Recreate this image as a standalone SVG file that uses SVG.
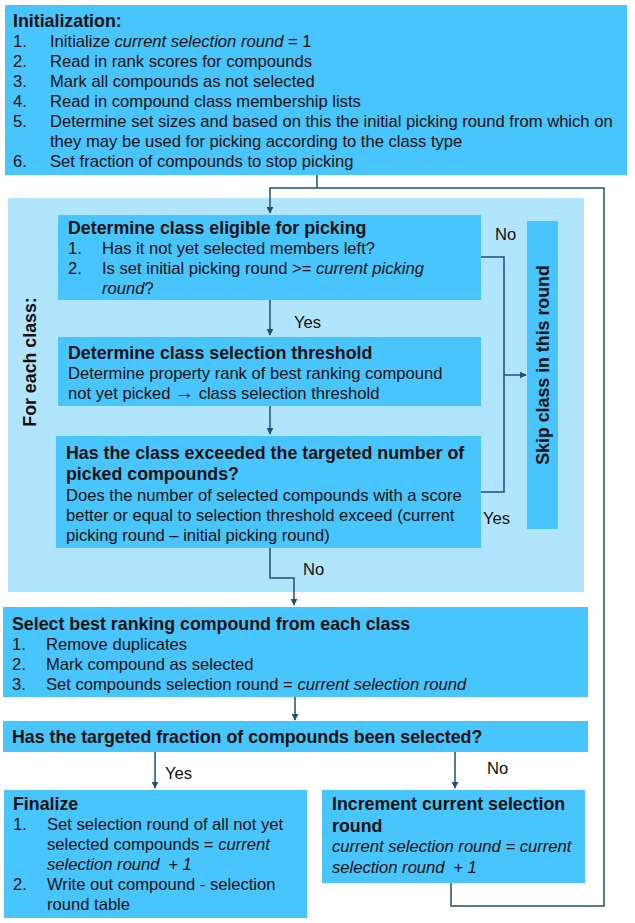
<svg xmlns="http://www.w3.org/2000/svg" width="635" height="923" viewBox="0 0 635 923">
<defs>
<style>
.box{fill:#47C5FC;}
.panel{fill:#B1E5FD;}
text{font-family:"Liberation Sans",Arial,sans-serif;font-size:16.6px;fill:#111;}
.b{font-weight:bold;font-size:17.8px;}
.i{font-style:italic;}
.ln{fill:none;stroke:#1F4E79;stroke-width:1.5;}
</style>
<marker id="ah" viewBox="0 0 10 10" refX="9" refY="5" markerWidth="7" markerHeight="7" orient="auto" markerUnits="userSpaceOnUse">
<path d="M0,0 L10,5 L0,10 z" fill="#1F4E79"/>
</marker>
</defs>
<rect width="635" height="923" fill="#fff"/>

<g id="panel">
<rect class="panel" x="8" y="198" width="576" height="394"/>
<text class="b" transform="translate(36,362) rotate(-90)" text-anchor="middle">For each class:</text>
</g>

<g id="connectors">
<path class="ln" d="M317,175 V188"/>
<path class="ln" d="M451,883 V906 H604 V188 H270 V213" marker-end="url(#ah)"/>
<path class="ln" d="M270,300 V335" marker-end="url(#ah)"/>
<path class="ln" d="M270,406 V434" marker-end="url(#ah)"/>
<path class="ln" d="M481,257 H504 V492 H481"/>
<path class="ln" d="M504,375 H526" marker-end="url(#ah)"/>
<path class="ln" d="M270,548 V578 H294 V605" marker-end="url(#ah)"/>
<path class="ln" d="M295,697 V720" marker-end="url(#ah)"/>
<path class="ln" d="M155,752 V788" marker-end="url(#ah)"/>
<path class="ln" d="M455,750 V788" marker-end="url(#ah)"/>
<text x="495" y="240">No</text>
<text x="294" y="328">Yes</text>
<text x="483" y="524">Yes</text>
<text x="303" y="575">No</text>
<text x="165" y="779">Yes</text>
<text x="487" y="774">No</text>
</g>

<g id="init">
<rect class="box" x="5" y="5" width="622" height="170"/>
<text class="b" x="13" y="27">Initialization:</text>
<text x="13" y="47">1.</text><text x="50" y="47">Initialize <tspan class="i">current selection round</tspan> = 1</text>
<text x="13" y="67">2.</text><text x="50" y="67">Read in rank scores for compounds</text>
<text x="13" y="87">3.</text><text x="50" y="87">Mark all compounds as not selected</text>
<text x="13" y="107">4.</text><text x="50" y="107">Read in compound class membership lists</text>
<text x="13" y="127">5.</text><text x="50" y="127">Determine set sizes and based on this the initial picking round from which on</text>
<text x="50" y="147">they may be used for picking according to the class type</text>
<text x="13" y="167">6.</text><text x="50" y="167">Set fraction of compounds to stop picking</text>
</g>

<g id="eligible">
<rect class="box" x="58" y="215" width="423" height="85"/>
<text class="b" x="68" y="234">Determine class eligible for picking</text>
<text x="68" y="254">1.</text><text x="102" y="254">Has it not yet selected members left?</text>
<text x="68" y="274">2.</text><text x="102" y="274">Is set initial picking round &gt;= <tspan class="i">current picking</tspan></text>
<text x="102" y="294"><tspan class="i">round</tspan>?</text>
</g>

<g id="threshold">
<rect class="box" x="58" y="337" width="423" height="69"/>
<text class="b" x="68" y="359">Determine class selection threshold</text>
<text x="68" y="379">Determine property rank of best ranking compound</text>
<text x="68" y="399">not yet picked <tspan font-weight="bold" font-size="19px">→</tspan> class selection threshold</text>
</g>

<g id="exceeded">
<rect class="box" x="56" y="436" width="425" height="112"/>
<text class="b" x="66" y="459">Has the class exceeded the targeted number of</text>
<text class="b" x="66" y="480">picked compounds?</text>
<text x="66" y="501">Does the number of selected compounds with a score</text>
<text x="66" y="521">better or equal to selection threshold exceed (current</text>
<text x="66" y="541">picking round – initial picking round)</text>
</g>

<g id="skip">
<rect class="box" x="527" y="221" width="31" height="308"/>
<text class="b" transform="translate(549,365) rotate(-90)" text-anchor="middle">Skip class in this round</text>
</g>

<g id="select">
<rect class="box" x="3" y="607" width="585" height="90"/>
<text class="b" x="12" y="630">Select best ranking compound from each class</text>
<text x="12" y="650">1.</text><text x="46" y="650">Remove duplicates</text>
<text x="12" y="670">2.</text><text x="46" y="670">Mark compound as selected</text>
<text x="12" y="690">3.</text><text x="46" y="690">Set compounds selection round = <tspan class="i">current selection round</tspan></text>
</g>

<g id="fraction">
<rect class="box" x="3" y="721" width="585" height="31"/>
<text class="b" x="12" y="743">Has the targeted fraction of compounds been selected?</text>
</g>

<g id="finalize">
<rect class="box" x="4" y="790" width="303" height="128"/>
<text class="b" x="13" y="810">Finalize</text>
<text x="13" y="830">1.</text><text x="47" y="830">Set selection round of all not yet</text>
<text x="47" y="850">selected compounds = <tspan class="i">current</tspan></text>
<text x="47" y="870" class="i">selection round <tspan dx="4">+ 1</tspan></text>
<text x="13" y="890">2.</text><text x="47" y="890">Write out compound - selection</text>
<text x="47" y="910">round table</text>
</g>

<g id="increment">
<rect class="box" x="322" y="790" width="263" height="93"/>
<text class="b" x="332" y="810">Increment current selection</text>
<text class="b" x="332" y="832">round</text>
<text x="332" y="852" class="i">current selection round = current</text>
<text x="332" y="873" class="i">selection round <tspan dx="4">+ 1</tspan></text>
</g>
</svg>
